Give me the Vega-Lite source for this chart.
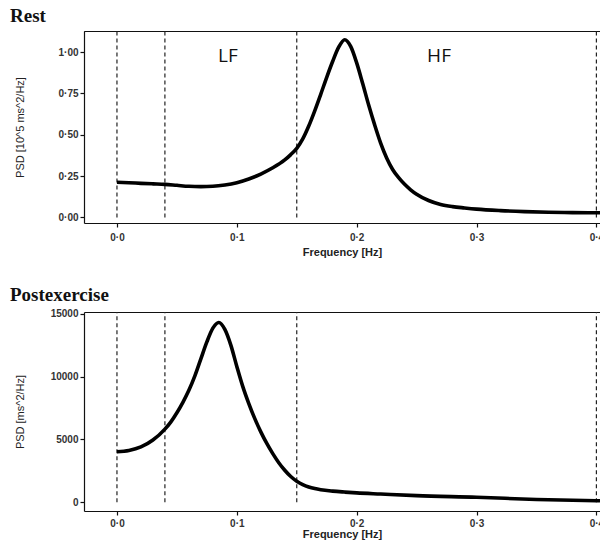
{
  "$schema": "https://vega.github.io/schema/vega-lite/v6.json",
  "padding": {"left": 10, "top": 7, "right": 0, "bottom": 6},
  "background": "white",
  "spacing": 28,
  "config": {
    "view": {"stroke": null},
    "axis": {"labelFont": "Liberation Sans", "titleFont": "Liberation Sans", "labelColor": "#333", "titleColor": "#222", "domainColor": "#111", "tickColor": "#111", "grid": false, "tickSize": 4, "domainWidth": 1.2, "tickWidth": 1.2}
  },
  "datasets": {
    "rest": [
      {"f": 0.0, "v": 0.213}, {"f": 0.01, "v": 0.21}, {"f": 0.02, "v": 0.206}, {"f": 0.03, "v": 0.203}, {"f": 0.04, "v": 0.2},
      {"f": 0.05, "v": 0.194}, {"f": 0.06, "v": 0.188}, {"f": 0.07, "v": 0.186}, {"f": 0.08, "v": 0.188}, {"f": 0.09, "v": 0.196},
      {"f": 0.1, "v": 0.21}, {"f": 0.11, "v": 0.232}, {"f": 0.12, "v": 0.262}, {"f": 0.13, "v": 0.3}, {"f": 0.14, "v": 0.348},
      {"f": 0.145, "v": 0.38}, {"f": 0.15, "v": 0.418}, {"f": 0.155, "v": 0.475}, {"f": 0.16, "v": 0.553}, {"f": 0.165, "v": 0.645},
      {"f": 0.17, "v": 0.745}, {"f": 0.175, "v": 0.848}, {"f": 0.18, "v": 0.945}, {"f": 0.185, "v": 1.03}, {"f": 0.19, "v": 1.075},
      {"f": 0.195, "v": 1.035}, {"f": 0.2, "v": 0.935}, {"f": 0.205, "v": 0.81}, {"f": 0.21, "v": 0.68}, {"f": 0.215, "v": 0.56},
      {"f": 0.22, "v": 0.45}, {"f": 0.225, "v": 0.36}, {"f": 0.23, "v": 0.29}, {"f": 0.235, "v": 0.24}, {"f": 0.24, "v": 0.2},
      {"f": 0.245, "v": 0.167}, {"f": 0.25, "v": 0.14}, {"f": 0.26, "v": 0.102}, {"f": 0.27, "v": 0.078}, {"f": 0.28, "v": 0.065},
      {"f": 0.29, "v": 0.057}, {"f": 0.3, "v": 0.05}, {"f": 0.32, "v": 0.041}, {"f": 0.34, "v": 0.035}, {"f": 0.36, "v": 0.031},
      {"f": 0.38, "v": 0.029}, {"f": 0.4, "v": 0.028}, {"f": 0.403, "v": 0.028}
    ],
    "post": [
      {"f": 0.0, "v": 4020}, {"f": 0.01, "v": 4120}, {"f": 0.02, "v": 4400}, {"f": 0.03, "v": 4950}, {"f": 0.04, "v": 5820},
      {"f": 0.045, "v": 6400}, {"f": 0.05, "v": 7120}, {"f": 0.055, "v": 7950}, {"f": 0.06, "v": 8900}, {"f": 0.065, "v": 10050},
      {"f": 0.07, "v": 11400}, {"f": 0.075, "v": 12750}, {"f": 0.08, "v": 13850}, {"f": 0.085, "v": 14300}, {"f": 0.09, "v": 13750},
      {"f": 0.095, "v": 12500}, {"f": 0.1, "v": 10800}, {"f": 0.105, "v": 9200}, {"f": 0.11, "v": 7850}, {"f": 0.115, "v": 6650},
      {"f": 0.12, "v": 5600}, {"f": 0.125, "v": 4680}, {"f": 0.13, "v": 3870}, {"f": 0.135, "v": 3150}, {"f": 0.14, "v": 2550},
      {"f": 0.145, "v": 2050}, {"f": 0.15, "v": 1680}, {"f": 0.155, "v": 1410}, {"f": 0.16, "v": 1220}, {"f": 0.165, "v": 1090},
      {"f": 0.17, "v": 1000}, {"f": 0.18, "v": 890}, {"f": 0.19, "v": 815}, {"f": 0.2, "v": 750}, {"f": 0.22, "v": 660},
      {"f": 0.25, "v": 530}, {"f": 0.3, "v": 400}, {"f": 0.35, "v": 230}, {"f": 0.4, "v": 130}, {"f": 0.403, "v": 125}
    ],
    "bands": [{"f": 0.0}, {"f": 0.04}, {"f": 0.15}, {"f": 0.4}],
    "labels": [{"f": 0.0926, "v": 0.975, "t": "LF"}, {"f": 0.2687, "v": 0.975, "t": "HF"}]
  },
  "vconcat": [
    {
      "width": 516,
      "height": 192,
      "title": {"text": "Rest", "anchor": "start", "frame": "group", "dx": -74, "offset": 4, "font": "Liberation Serif", "fontSize": 19, "fontWeight": "bold", "color": "#111"},
      "layer": [
        {
          "data": {"name": "bands"},
          "mark": {"type": "rule", "strokeDash": [4, 3], "strokeWidth": 1.2, "color": "#222"},
          "encoding": {
            "x": {"field": "f", "type": "quantitative", "scale": {"domain": [-0.0275, 0.403], "nice": false, "zero": false},
                  "axis": {"orient": "top", "labels": false, "ticks": false, "title": null, "domain": true}},
            "y": {"datum": 0, "type": "quantitative"},
            "y2": {"datum": 1.128}
          }
        },
        {
          "data": {"name": "rest"},
          "mark": {"type": "line", "strokeWidth": 3.6, "color": "#000", "interpolate": "monotone"},
          "encoding": {
            "x": {"field": "f", "type": "quantitative",
                  "axis": {"orient": "bottom", "values": [0, 0.1, 0.2, 0.3, 0.4], "labelExpr": "replace(format(datum.value, '.1f'), '.', '·')", "labelFontSize": 10, "labelFontWeight": "bold", "labelPadding": 5, "title": "Frequency [Hz]", "titleFontSize": 11, "titleFontWeight": "bold", "titlePadding": 4}},
            "y": {"field": "v", "type": "quantitative", "scale": {"domain": [-0.034, 1.128], "nice": false, "zero": false},
                  "axis": {"values": [0, 0.25, 0.5, 0.75, 1], "labelExpr": "replace(format(datum.value, '.2f'), '.', '·')", "labelFontSize": 10, "labelFontWeight": "bold", "labelPadding": 2, "title": "PSD [10^5 ms^2/Hz]", "titleFontSize": 11, "titleFontWeight": "normal", "titleX": -59}}
          }
        },
        {
          "data": {"name": "labels"},
          "mark": {"type": "text", "font": "Open Sans", "fontSize": 19, "color": "#111"},
          "encoding": {
            "x": {"field": "f", "type": "quantitative", "axis": {"orient": "top", "labels": false, "ticks": false, "title": null, "domain": true}},
            "y": {"field": "v", "type": "quantitative"},
            "text": {"field": "t"}
          }
        }
      ]
    },
    {
      "width": 516,
      "height": 199,
      "title": {"text": "Postexercise", "anchor": "start", "frame": "group", "dx": -74, "offset": 4, "font": "Liberation Serif", "fontSize": 19, "fontWeight": "bold", "color": "#111"},
      "layer": [
        {
          "data": {"name": "bands"},
          "mark": {"type": "rule", "strokeDash": [4, 3], "strokeWidth": 1.2, "color": "#222"},
          "encoding": {
            "x": {"field": "f", "type": "quantitative", "scale": {"domain": [-0.0275, 0.403], "nice": false, "zero": false},
                  "axis": {"orient": "top", "labels": false, "ticks": false, "title": null, "domain": true}},
            "y": {"datum": 0, "type": "quantitative"},
            "y2": {"datum": 15130}
          }
        },
        {
          "data": {"name": "post"},
          "mark": {"type": "line", "strokeWidth": 3.6, "color": "#000", "interpolate": "monotone"},
          "encoding": {
            "x": {"field": "f", "type": "quantitative",
                  "axis": {"orient": "bottom", "values": [0, 0.1, 0.2, 0.3, 0.4], "labelExpr": "replace(format(datum.value, '.1f'), '.', '·')", "labelFontSize": 10, "labelFontWeight": "bold", "labelPadding": 3, "title": "Frequency [Hz]", "titleFontSize": 11, "titleFontWeight": "bold", "titlePadding": 0}},
            "y": {"field": "v", "type": "quantitative", "scale": {"domain": [-690, 15130], "nice": false, "zero": false},
                  "axis": {"values": [0, 5000, 10000, 15000], "format": "d", "labelFontSize": 10, "labelFontWeight": "bold", "labelPadding": 2, "title": "PSD [ms^2/Hz]", "titleFontSize": 11, "titleFontWeight": "normal", "titleX": -59}}
          }
        }
      ]
    }
  ]
}
